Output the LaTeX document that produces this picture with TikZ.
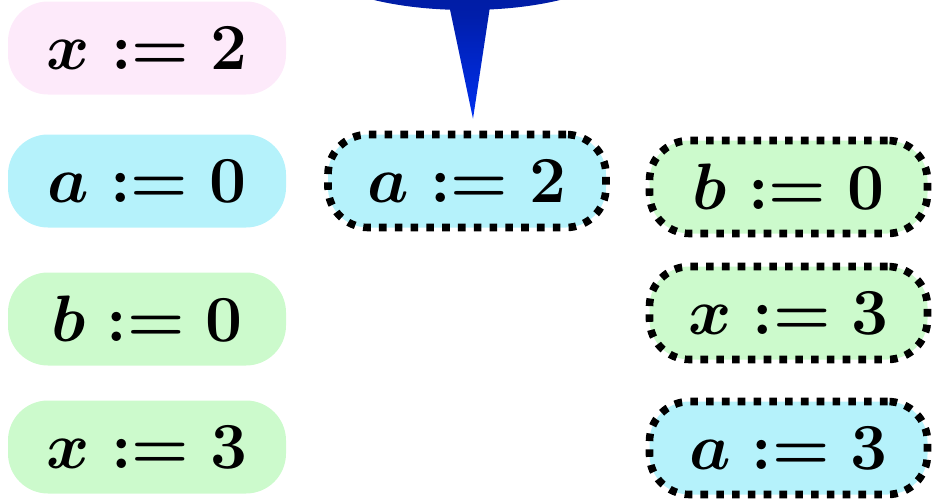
\documentclass[tikz,border=0pt]{standalone}
\usepackage{graphicx}
\definecolor{boxpink}{RGB}{253,234,250}
\definecolor{boxcyan}{RGB}{181,242,251}
\definecolor{boxgreen}{RGB}{204,250,204}
\definecolor{calltop}{RGB}{0,22,140}
\definecolor{callbot}{RGB}{0,48,240}
\newcommand{\asgtext}[1]{\scalebox{1.32}{$#1$}}
\tikzset{
  assign/.style={rounded corners=20pt, minimum width=139pt, minimum height=46.5pt,
    inner sep=0pt, font=\Huge\boldmath},
  dotbox/.style={assign, draw=black, line width=3.8pt, dash pattern=on 3.8pt off 4.1pt},
}
\begin{document}
\begin{tikzpicture}[x=0.5pt,y=-0.5pt]
\useasboundingbox (0,0) rectangle (944,503);
% left column
\node[assign, fill=boxpink]  (lx2) at (147,48)  {\asgtext{x := 2}};
\node[assign, fill=boxcyan]  (la0) at (147,181) {\asgtext{a := 0}};
\node[assign, fill=boxgreen] (lb0) at (147,319) {\asgtext{b := 0}};
\node[assign, fill=boxgreen] (lx3) at (147,447) {\asgtext{x := 3}};
% middle
\node[dotbox, fill=boxcyan] (ma2) at (467,181) {\asgtext{a := 2}};
% right column
\node[dotbox, fill=boxgreen] (rb0) at (788.5,187) {\asgtext{b := 0}};
\node[dotbox, fill=boxgreen] (rx3) at (788.5,313) {\asgtext{x := 3}};
\node[dotbox, fill=boxcyan]  (ra3) at (788.5,448) {\asgtext{a := 3}};
% callout
\coordinate (tip) at ([xshift=3pt,yshift=6pt]ma2.north);
\begin{scope}
\clip (0,0) rectangle (944,503);
\shade[top color=calltop, bottom color=callbot, middle color=calltop!70!callbot]
  (467,-40) ellipse [x radius=155, y radius=50]
  (491,0) -- (tip) -- (448,0) -- cycle;
\end{scope}
\end{tikzpicture}
\end{document}
